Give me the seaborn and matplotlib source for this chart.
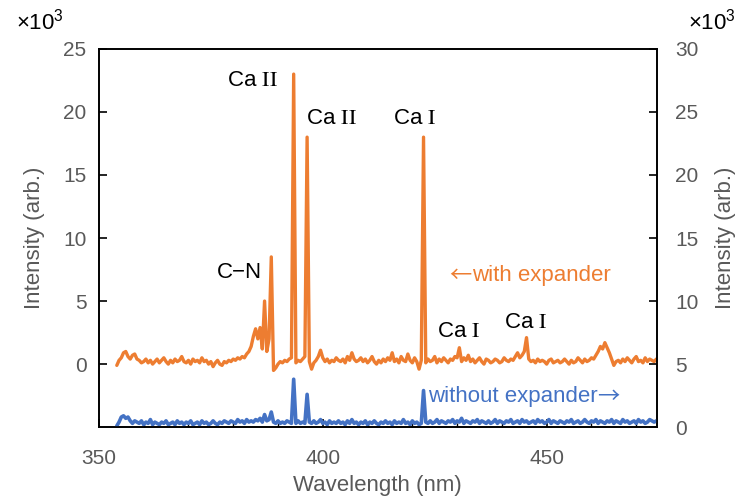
import numpy as np
import pandas as pd
import matplotlib
matplotlib.use("Agg")
import matplotlib.pyplot as plt
import seaborn as sns
from matplotlib.ticker import MultipleLocator

sns.set_style("ticks")
plt.rcParams["font.family"] = ["Liberation Sans", "DejaVu Sans"]
plt.rcParams["mathtext.fontset"] = "stix"

# Spectrometer wavelength grid (nm), 0.5 nm sampling
wavelength = np.arange(354.0, 475.0, 0.5)

# Emission intensity with beam expander (x10^3, left axis)
with_expander = [
    -0.1, 0.3, 0.5, 0.9, 1.0, 0.6, 0.4, 0.7, 0.8, 0.4,
    0.3, 0.1, 0.2, 0.4, 0.1, 0.3, 0.0, 0.2, 0.4, 0.1,
    0.3, 0.5, 0.2, 0.0, 0.3, 0.1, 0.4, 0.2, 0.3, 0.6,
    0.2, 0.1, 0.3, 0.0, 0.4, 0.2, 0.3, 0.1, 0.5, 0.2,
    0.3, 0.0, 0.2, -0.2, 0.1, 0.3, 0.0, -0.1, 0.2, 0.1,
    0.3, 0.2, 0.4, 0.3, 0.5, 0.4, 0.6, 0.5, 0.8, 1.0,
    1.4, 2.2, 2.8, 2.0, 2.9, 1.2, 5.0, 1.0, 2.0, 8.5,
    -0.5, -0.3, 0.0, 0.2, 0.1, 0.3, 0.2, 0.4, 0.5, 23.0,
    0.1, 0.3, 0.2, 0.4, 0.6, 18.0, 0.2, -0.4, 0.1, 0.3,
    0.6, 1.1, 0.5, 0.2, 0.4, 0.1, 0.3, 0.2, 0.5, 0.3,
    0.2, 0.4, 0.1, 0.6, 0.3, 0.9, 0.4, 0.2, 0.3, 0.5,
    0.2, 0.4, 0.1, 0.3, 0.6, 0.2, 0.0, 0.3, 0.1, 0.4,
    0.2, 0.5, 0.3, 0.9, 0.2, 0.4, 0.1, 0.6, 0.3, 0.2,
    0.8, 0.3, 0.1, 0.5, 0.2, -0.4, 0.3, 18.0, 0.1, 0.4,
    0.2, 0.3, 0.6, 0.1, 0.4, 0.2, 0.5, 0.3, 0.1, 0.4,
    0.3, 0.6, 0.5, 1.3, 0.2, 0.5, 0.3, 0.7, 0.2, 0.4,
    0.1, 0.3, 0.5, 0.2, 0.0, 0.4, 0.3, 0.1, 0.2, 0.4,
    0.3, 0.1, 0.2, 0.5, 0.3, 0.2, 0.4, 0.3, 0.6, 0.9,
    0.5, 0.7, 1.0, 2.1, 0.4, 0.2, 0.3, 0.1, 0.4, 0.2,
    0.3, 0.2, 0.0, 0.3, 0.4, 0.1, 0.2, 0.3, 0.1, 0.2,
    0.4, 0.2, 0.0, 0.3, 0.1, 0.2, 0.5, 0.3, 0.1, 0.4,
    0.2, 0.3, 0.5, 0.4, 0.7, 1.0, 1.4, 1.2, 1.7, 1.3,
    0.9, 0.4, -0.1, 0.2, 0.3, 0.1, 0.4, 0.2, 0.5, 0.3,
    0.1, 0.4, 0.6, 0.2, 0.3, 0.1, 0.5, 0.2, 0.4, 0.3,
    0.2, 0.4,
]

# Emission intensity without beam expander (x10^3, right axis)
without_expander = [
    0.1, 0.4, 0.8, 0.9, 0.7, 0.8, 0.5, 0.3, 0.5, 0.4,
    0.3, 0.5, 0.2, 0.4, 0.3, 0.6, 0.2, 0.4, 0.3, 0.2,
    0.4, 0.3, 0.5, 0.2, 0.3, 0.4, 0.2, 0.5, 0.3, 0.4,
    0.2, 0.4, 0.3, 0.5, 0.2, 0.3, 0.4, 0.2, 0.5, 0.3,
    0.4, 0.2, 0.3, 0.5, 0.3, 0.2, 0.4, 0.3, 0.5, 0.4,
    0.3, 0.5, 0.4, 0.3, 0.6, 0.4, 0.5, 0.3, 0.6, 0.4,
    0.5, 0.4, 0.6, 0.5, 0.7, 0.4, 1.0, 0.5, 0.6, 1.2,
    0.4, 0.3, 0.5, 0.3, 0.4, 0.3, 0.5, 0.4, 0.3, 3.8,
    0.3, 0.5, 0.3, 0.4, 0.3, 2.6, 0.4, 0.3, 0.5, 0.3,
    0.4, 0.6, 0.3, 0.4, 0.2, 0.5, 0.3, 0.4, 0.3, 0.5,
    0.3, 0.4, 0.2, 0.5, 0.3, 0.6, 0.3, 0.4, 0.2, 0.4,
    0.3, 0.5, 0.2, 0.4, 0.3, 0.5, 0.3, 0.2, 0.4, 0.3,
    0.5, 0.3, 0.4, 0.2, 0.5, 0.3, 0.4, 0.3, 0.6, 0.3,
    0.4, 0.2, 0.5, 0.3, 0.4, 0.2, 0.3, 2.9, 0.4, 0.3,
    0.5, 0.3, 0.4, 0.6, 0.3, 0.5, 0.4, 0.3, 0.5, 0.4,
    0.6, 0.3, 0.5, 0.4, 0.7, 0.3, 0.5, 0.4, 0.3, 0.5,
    0.4, 0.6, 0.3, 0.5, 0.4, 0.3, 0.5, 0.3, 0.4, 0.6,
    0.3, 0.5, 0.4, 0.3, 0.5, 0.4, 0.6, 0.3, 0.4, 0.5,
    0.3, 0.6, 0.4, 0.5, 0.3, 0.4, 0.5, 0.3, 0.6, 0.4,
    0.5, 0.3, 0.4, 0.6, 0.3, 0.5, 0.4, 0.3, 0.5, 0.4,
    0.3, 0.5, 0.4, 0.6, 0.3, 0.4, 0.5, 0.3, 0.4, 0.6,
    0.4, 0.3, 0.5, 0.4, 0.6, 0.3, 0.5, 0.4, 0.3, 0.5,
    0.4, 0.6, 0.3, 0.5, 0.4, 0.3, 0.6, 0.4, 0.5, 0.3,
    0.4, 0.5, 0.3, 0.6, 0.4, 0.5, 0.3, 0.4, 0.6, 0.5,
    0.4, 0.5,
]

left_ticks = [0, 5, 10, 15, 20, 25]
right_ticks = [0, 5, 10, 15, 20, 25, 30]
x_ticks = [350, 400, 450]

# Line identifications: (label, wavelength, intensity on left axis, alignment)
line_labels = [
    ("Ca $\\mathrm{II}$", 390.0, 22.5, "right"),
    ("Ca $\\mathrm{II}$", 396.2, 19.5, "left"),
    ("Ca $\\mathrm{I}$", 420.6, 19.5, "center"),
    ("C\u2212N", 381.4, 7.3, "center"),
    ("Ca $\\mathrm{I}$", 430.4, 2.6, "center"),
    ("Ca $\\mathrm{I}$", 445.4, 3.3, "center"),
]

orange = "#ED7D31"
blue = "#4472C4"
gray = "#595959"
arrow_font = ["Noto Sans CJK JP", "DejaVu Sans"]

df = pd.DataFrame({
    "wavelength": wavelength,
    "with": with_expander,
    "without": without_expander,
})

fig = plt.figure(figsize=(7.38, 4.99), dpi=100)
ax = fig.add_axes([0.134, 0.144, 0.756, 0.758])
ax2 = ax.twinx()

sns.lineplot(data=df, x="wavelength", y="with", ax=ax, color=orange, lw=2.4)
sns.lineplot(data=df, x="wavelength", y="without", ax=ax2, color=blue, lw=2.6)

ax.set_xlim(350, 474.6)
ax.set_ylim(-5, 25)
ax2.set_ylim(0, 30)
ax.set_xticks(x_ticks)
ax.xaxis.set_minor_locator(MultipleLocator(10))
ax.set_yticks(left_ticks)
ax2.set_yticks(right_ticks)

for a in (ax, ax2):
    for s in a.spines.values():
        s.set_color("black")
        s.set_linewidth(1.2)
        s.set_visible(True)

ax.tick_params(axis="both", which="major", direction="in", length=6, width=1.2,
               colors="black", labelcolor=gray, labelsize=15)
ax.tick_params(axis="y", pad=9)
ax.tick_params(axis="x", which="minor", direction="in", length=3, width=1.0,
               colors="black")
ax.tick_params(axis="x", pad=16)
ax2.tick_params(axis="y", which="major", direction="in", length=6, width=1.2,
                colors="black", labelcolor=gray, labelsize=15, pad=13)

ax.set_xlabel("Wavelength (nm)", fontsize=16, color=gray, labelpad=5)
ax.set_ylabel("Intensity (arb.)", fontsize=16, color=gray, labelpad=13)
ax2.set_ylabel("Intensity (arb.)", fontsize=16, color=gray, labelpad=12)

for label, x, y, ha in line_labels:
    ax.text(x, y, label, fontsize=16, color="black", ha=ha, va="center")

# Series captions with full-width arrows
larrow = ax.text(428.3, 7.0, "\u2190", fontsize=16, color=orange,
                 ha="left", va="center", family=arrow_font)
ax.annotate("with expander", xy=(1.0, 0.5), xycoords=larrow, fontsize=16,
            color=orange, ha="left", va="center")
wtxt = ax.text(423.4, -2.55, "without expander", fontsize=16, color=blue,
               ha="left", va="center")
ax.annotate("\u2192", xy=(1.0, 0.5), xycoords=wtxt, fontsize=16, color=blue,
            ha="left", va="center", family=arrow_font)

# Axis multipliers
mult = "\u00d710$\\mathregular{^{3}}$"
fig.text(16 / 738, 1 - 22 / 499, mult, fontsize=16, color="black",
         ha="left", va="center")
fig.text(688 / 738, 1 - 22 / 499, mult, fontsize=16, color="black",
         ha="left", va="center")

fig.savefig("out.png", dpi=100)
